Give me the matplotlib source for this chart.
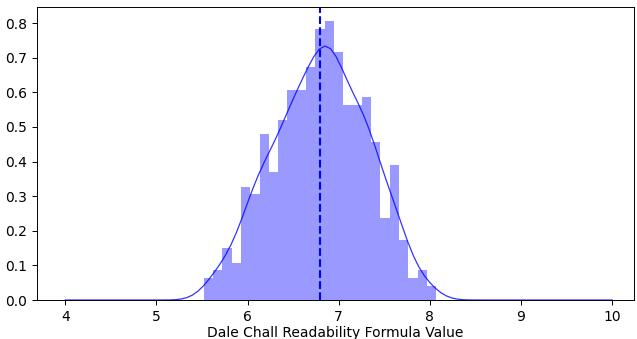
import numpy as np
import matplotlib
matplotlib.use("Agg")
import matplotlib.pyplot as plt

# histogram (density)
bin_start = 5.52
bin_width = 0.102
heights = [0.064, 0.086, 0.150, 0.106, 0.325, 0.305, 0.479, 0.369, 0.521, 0.608,
           0.608, 0.673, 0.783, 0.806, 0.717, 0.564, 0.564, 0.587, 0.456, 0.237,
           0.390, 0.173, 0.064, 0.086, 0.041]
mean_value = 6.80
kde_range = (4, 10)

edges = bin_start + bin_width * np.arange(len(heights) + 1)
centers = (edges[:-1] + edges[1:]) / 2
w = np.array(heights)

# gaussian kde from the binned data
n_eff = 450
mu = np.sum(w * centers) / w.sum()
sd = np.sqrt(np.sum(w * (centers - mu) ** 2) / w.sum())
bw = sd * n_eff ** (-1 / 5) * 0.97
xs = np.linspace(kde_range[0], kde_range[1], 100)
ys = np.sum(w[None, :] * np.exp(-0.5 * ((xs[:, None] - centers[None, :]) / bw) ** 2), axis=1)
ys = ys / (w.sum() * bw * np.sqrt(2 * np.pi))

fig = plt.figure(figsize=(6.37, 3.39), dpi=100)
ax = fig.add_axes([37 / 637, 39 / 339, 597 / 637, 293 / 339])
ax.bar(edges[:-1], heights, width=bin_width, align='edge', color='blue', alpha=0.4, linewidth=0)
ax.plot(xs, ys, color='blue', linewidth=0.9, alpha=0.8)
ax.axvline(mean_value, color='blue', linestyle='--', linewidth=1.5)
ax.set_xlim(3.69, 10.24)
ax.set_ylim(0, max(heights) * 1.05)
ax.set_xticks(range(4, 11))
ax.tick_params(labelsize=10, width=0.7)
for s in ax.spines.values():
    s.set_linewidth(0.7)
ax.set_xlabel('Dale Chall Readability Formula Value', fontsize=10, labelpad=2)
fig.savefig('out.png', dpi=100)
